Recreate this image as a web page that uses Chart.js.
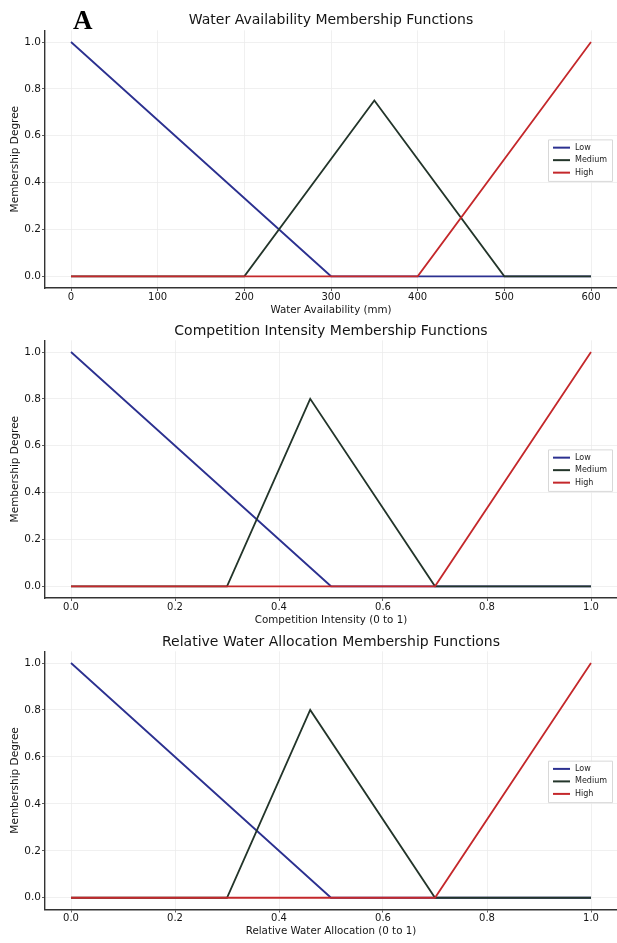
<!DOCTYPE html>
<html>
<head>
<meta charset="utf-8">
<script src="https://cdn.jsdelivr.net/npm/chart.js@4"></script>
<style>
  html, body { margin: 0; padding: 0; background: #fff; }
  body { width: 617px; height: 943px; position: relative; overflow: hidden; }
  .box { position: absolute; left: 0; width: 617px; }
  #panelLetter { position: absolute; left: 73px; top: 5px; font: bold 27px "Liberation Serif", "Times New Roman", serif; color: #000; z-index: 5; }
</style>
</head>
<body>
<div id="panelLetter">A</div>
<div class="box" id="b1" style="top:0px;height:318px;"><canvas id="c1"></canvas></div>
<div class="box" id="b2" style="top:318px;height:312px;"><canvas id="c2"></canvas></div>
<div class="box" id="b3" style="top:630px;height:313px;"><canvas id="c3"></canvas></div>
<script>
// ---------- DATA ----------
const seriesNames = ["Low", "Medium", "High"];

// Chart 1: Water Availability
const waterLowX = [0, 300, 600];
const waterLowY = [1, 0, 0];
const waterMedX = [0, 200, 350, 500, 600];
const waterMedY = [0, 0, 0.75, 0, 0];
const waterHighX = [0, 400, 600];
const waterHighY = [0, 0, 1];
const waterTicksX = [0, 100, 200, 300, 400, 500, 600];

// Chart 2: Competition Intensity
const compLowX = [0, 0.5, 1];
const compLowY = [1, 0, 0];
const compMedX = [0, 0.3, 0.46, 0.7, 1];
const compMedY = [0, 0, 0.8, 0, 0];
const compHighX = [0, 0.7, 1];
const compHighY = [0, 0, 1];

// Chart 3: Relative Water Allocation
const allocLowX = [0, 0.5, 1];
const allocLowY = [1, 0, 0];
const allocMedX = [0, 0.3, 0.46, 0.7, 1];
const allocMedY = [0, 0, 0.8, 0, 0];
const allocHighX = [0, 0.7, 1];
const allocHighY = [0, 0, 1];

const unitTicksX = [0, 0.2, 0.4, 0.6, 0.8, 1.0];
const membershipTicksY = [0, 0.2, 0.4, 0.6, 0.8, 1.0];

// ---------- STYLE ----------
const lineColors = ["#2c3190", "#23352a", "#c4282b"];
const FONT = '"DejaVu Sans", "Liberation Sans", sans-serif';
const TXT = '#151515';

function pts(xs, ys) { return xs.map((x, i) => ({ x: x, y: ys[i] })); }

const legendPlugin = {
  id: 'innerLegend',
  afterDraw(chart) {
    const ctx = chart.ctx;
    const ca = chart.chartArea;
    const rowH = 12.5, padX = 5, lineLen = 17, gap = 5;
    ctx.save();
    ctx.font = '8px ' + FONT;
    const names = chart.data.datasets.map(d => d.label);
    let tw = 0;
    names.forEach(n => { tw = Math.max(tw, ctx.measureText(n).width); });
    const w = padX + lineLen + gap + tw + padX;
    const h = rowH * names.length + 4;
    const x0 = ca.right - 5 - w;
    const y0 = (ca.top + ca.bottom) / 2 - h / 2 + 1;
    ctx.fillStyle = 'rgba(255,255,255,0.85)';
    ctx.strokeStyle = '#d8d8d8';
    ctx.lineWidth = 1;
    ctx.beginPath();
    ctx.rect(x0 + 0.5, y0 + 0.5, w, h);
    ctx.fill(); ctx.stroke();
    chart.data.datasets.forEach((d, i) => {
      const cy = y0 + 2 + rowH * i + rowH / 2;
      ctx.strokeStyle = d.borderColor;
      ctx.lineWidth = 2;
      ctx.beginPath();
      ctx.moveTo(x0 + padX, cy);
      ctx.lineTo(x0 + padX + lineLen, cy);
      ctx.stroke();
      ctx.fillStyle = '#222';
      ctx.textBaseline = 'middle';
      ctx.textAlign = 'left';
      ctx.fillText(d.label, x0 + padX + lineLen + gap, cy);
    });
    ctx.restore();
  }
};

function makeChart(id, cfg) {
  const datasets = cfg.series.map((s, i) => ({
    label: seriesNames[i],
    data: pts(s[0], s[1]),
    borderColor: lineColors[i],
    backgroundColor: lineColors[i],
    borderWidth: 1.8,
    pointRadius: 0,
    tension: 0,
    fill: false,
    order: 2 - i
  }));
  return new Chart(document.getElementById(id), {
    type: 'line',
    data: { datasets: datasets },
    options: {
      responsive: true,
      maintainAspectRatio: false,
      animation: false,
      events: [],
      layout: { padding: { left: 0, right: 0, top: 0, bottom: 0 } },
      plugins: {
        legend: { display: false },
        tooltip: { enabled: false },
        title: {
          display: true,
          fullSize: false,
          text: cfg.title,
          color: TXT,
          font: { family: FONT, size: 14, weight: 'normal' },
          padding: { top: cfg.titleTop, bottom: cfg.titleBottom }
        }
      },
      scales: {
        x: {
          type: 'linear',
          min: cfg.xMin, max: cfg.xMax,
          afterBuildTicks(scale) { scale.ticks = cfg.xTicks.map(v => ({ value: v })); },
          afterFit(scale) { scale.height = cfg.xAxisH; },
          ticks: {
            color: TXT, padding: 0,
            font: { family: FONT, size: 10 },
            callback: cfg.xFmt,
            maxRotation: 0, autoSkip: false
          },
          grid: { color: '#ececec', lineWidth: 0.8, tickColor: '#333', tickLength: 3 },
          border: { display: true, color: '#333', width: 1.4 },
          title: {
            display: true, text: cfg.xLabel, color: TXT,
            font: { family: FONT, size: 10.3 },
            padding: { top: 0, bottom: cfg.xTitleBottom }
          }
        },
        y: {
          type: 'linear',
          min: -0.05, max: 1.05,
          afterBuildTicks(scale) { scale.ticks = membershipTicksY.map(v => ({ value: v })); },
          afterFit(scale) { scale.width = 45; },
          ticks: {
            color: TXT, padding: 1,
            font: { family: FONT, size: 10.5 },
            callback: v => Number(v).toFixed(1)
          },
          grid: { color: '#ececec', lineWidth: 0.8, tickColor: '#333', tickLength: 3 },
          border: { display: true, color: '#333', width: 1.4 },
          title: {
            display: true, text: 'Membership Degree', color: TXT,
            font: { family: FONT, size: 10.5 },
            padding: { top: 8.7, bottom: 0 }
          }
        }
      }
    },
    plugins: [legendPlugin]
  });
}

makeChart('c1', {
  title: 'Water Availability Membership Functions',
  series: [[waterLowX, waterLowY], [waterMedX, waterMedY], [waterHighX, waterHighY]],
  xMin: -30, xMax: 630, xTicks: waterTicksX,
  xFmt: v => String(v),
  xLabel: 'Water Availability (mm)',
  titleTop: 11.6, titleBottom: 1.9, xAxisH: 30, xTitleBottom: 1.8
});
makeChart('c2', {
  title: 'Competition Intensity Membership Functions',
  series: [[compLowX, compLowY], [compMedX, compMedY], [compHighX, compHighY]],
  xMin: -0.05, xMax: 1.05, xTicks: unitTicksX,
  xFmt: v => Number(v).toFixed(1),
  xLabel: 'Competition Intensity (0 to 1)',
  titleTop: 4.6, titleBottom: 0.9, xAxisH: 32, xTitleBottom: 3.8
});
makeChart('c3', {
  title: 'Relative Water Allocation Membership Functions',
  series: [[allocLowX, allocLowY], [allocMedX, allocMedY], [allocHighX, allocHighY]],
  xMin: -0.05, xMax: 1.05, xTicks: unitTicksX,
  xFmt: v => Number(v).toFixed(1),
  xLabel: 'Relative Water Allocation (0 to 1)',
  titleTop: 3.6, titleBottom: 0.9, xAxisH: 33.5, xTitleBottom: 5.8
});
</script>
</body>
</html>
